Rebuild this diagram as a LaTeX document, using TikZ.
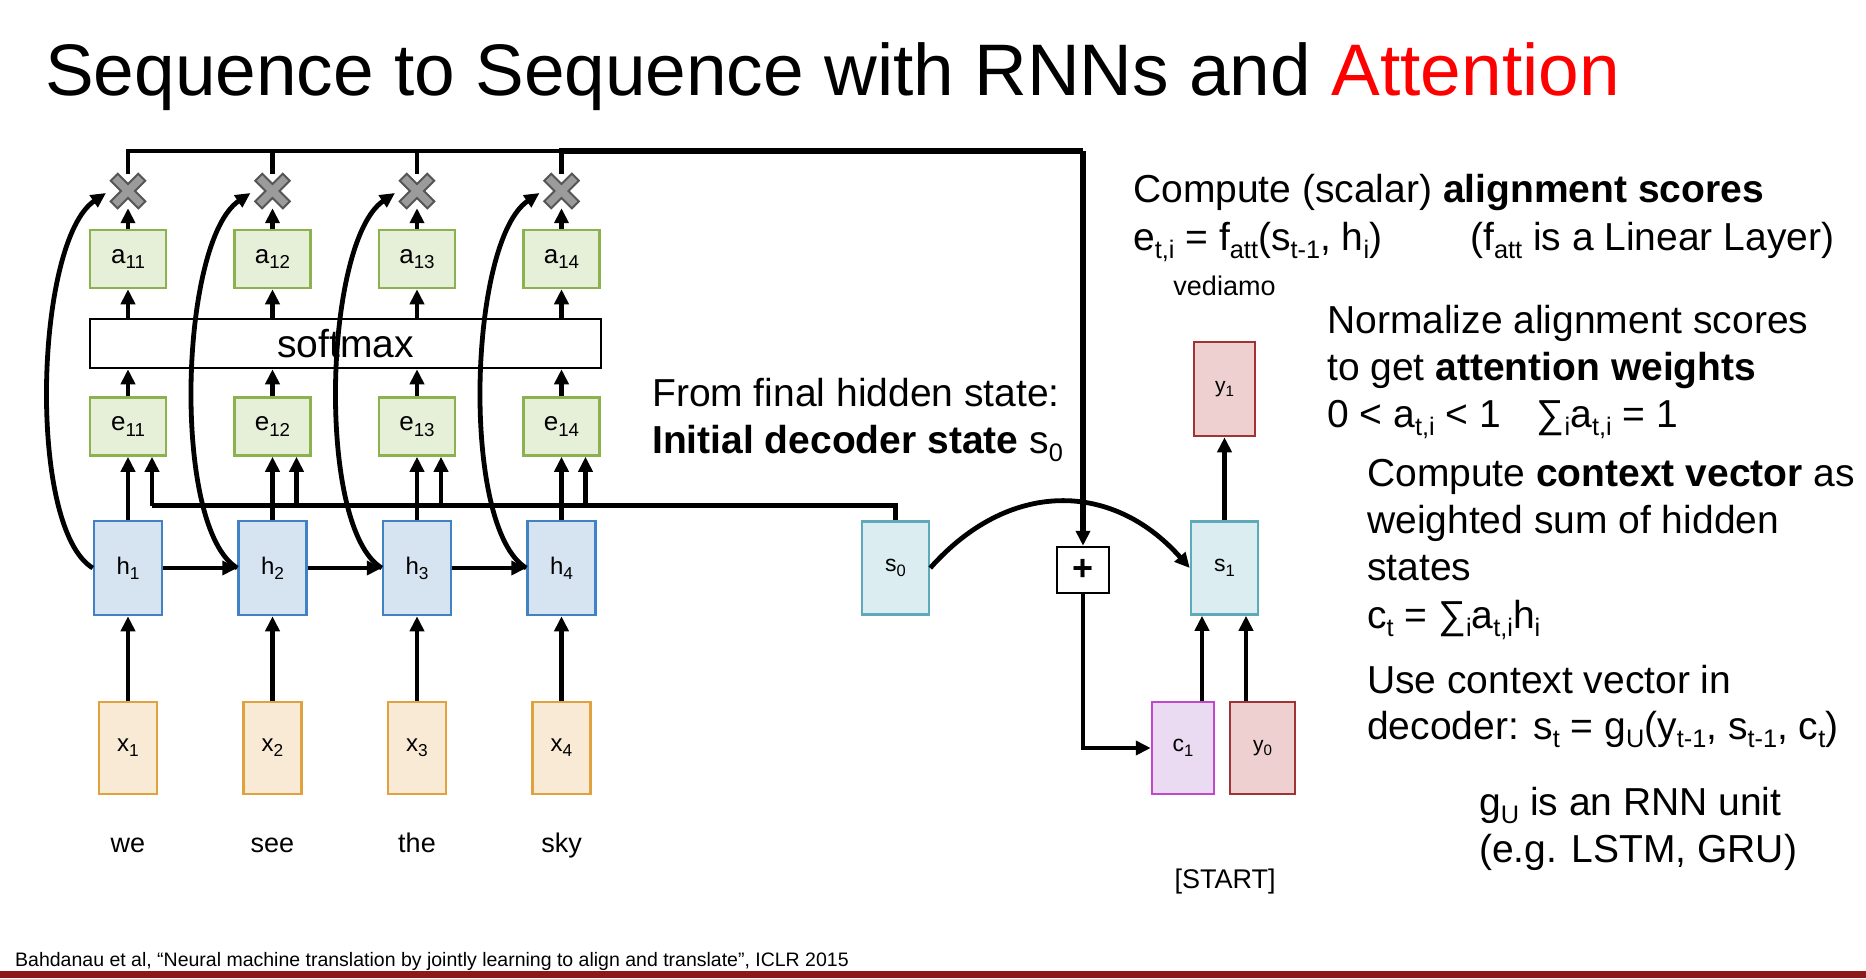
\documentclass[tikz,border=0pt]{standalone}
\usepackage{fontspec}
\setmainfont{Liberation Sans}
\usepackage{graphicx}
\usetikzlibrary{arrows.meta,calc}

\definecolor{grfill}{RGB}{230,239,216}
\definecolor{grline}{RGB}{140,178,80}
\definecolor{blfill}{RGB}{214,228,242}
\definecolor{blline}{RGB}{64,130,196}
\definecolor{orfill}{RGB}{248,234,212}
\definecolor{orline}{RGB}{224,162,62}
\definecolor{tlfill}{RGB}{219,237,240}
\definecolor{tlline}{RGB}{92,170,186}
\definecolor{rdfill}{RGB}{238,208,208}
\definecolor{rdline}{RGB}{160,52,52}
\definecolor{pufill}{RGB}{234,218,242}
\definecolor{puline}{RGB}{192,72,204}
\definecolor{xdark}{RGB}{85,85,85}
\definecolor{xlight}{RGB}{155,155,155}
\definecolor{barred}{RGB}{140,24,24}
\definecolor{attred}{RGB}{255,0,0}

\newcommand\mysub[1]{\raisebox{-0.22em}{\scalebox{0.65}{#1}}}
\newcommand\lsub[1]{\raisebox{-0.2em}{\scalebox{0.72}{#1}}}

\tikzset{
  box/.style={draw, line width=2.5pt, inner sep=0pt, anchor=center},
  gbox/.style={box, fill=grfill, draw=grline, minimum width=76pt, minimum height=58pt, font=\fontsize{26}{26}\selectfont},
  hbox/.style={box, fill=blfill, draw=blline, minimum width=68pt, minimum height=94pt, font=\fontsize{24}{24}\selectfont},
  xbox/.style={box, fill=orfill, draw=orline, minimum width=58pt, minimum height=92pt, font=\fontsize{24}{24}\selectfont},
  sbox/.style={box, fill=tlfill, draw=tlline, minimum width=67pt, minimum height=93pt, font=\fontsize{23}{23}\selectfont},
  ybox/.style={box, fill=rdfill, draw=rdline, font=\fontsize{21}{21}\selectfont},
  cbox/.style={box, fill=pufill, draw=puline, minimum width=62pt, minimum height=92pt, font=\fontsize{23}{23}\selectfont},
  softbox/.style={box, fill=white, draw=black, minimum width=511pt, minimum height=49pt, font=\fontsize{39}{39}\selectfont},
  plusbox/.style={box, fill=white, draw=black, minimum width=52pt, minimum height=46pt, font=\fontsize{36}{36}\selectfont\bfseries},
  mulnode/.style={circle, minimum size=34pt, inner sep=0pt},
  word/.style={anchor=base, inner sep=0pt, font=\fontsize{27}{30}\selectfont},
  body/.style={anchor=base west, inner sep=0pt, font=\fontsize{39}{47}\selectfont},
  ln/.style={line width=4.8pt},
  arr/.style={line width=4.8pt, -{Triangle[length=15pt,width=14pt]}},
  mulx/.pic={
    \draw[line width=12pt, xdark] (-14.5,-14.5) -- (14.5,14.5) (-14.5,14.5) -- (14.5,-14.5);
    \draw[line width=7.5pt, xlight] (-13,-13) -- (13,13) (-13,13) -- (13,-13);
  }
}

\begin{document}
\begin{tikzpicture}[x=1pt,y=-1pt]
\useasboundingbox (0,0) rectangle (1866,978);

% title
\node[anchor=base west, inner sep=0pt, font=\fontsize{73}{80}\selectfont] (title) at (45,95)
  {Sequence to Sequence with RNNs and \textcolor{attred}{Attention}};

% encoder columns
\foreach \i/\cx in {1/128,2/272.5,3/417,4/561.5}{
  \node[gbox] (a\i) at (\cx,259) {a\lsub{1\i}};
  \node[gbox] (e\i) at (\cx,426.5) {e\lsub{1\i}};
  \node[hbox] (h\i) at (\cx,568) {h\lsub{\i}};
  \node[xbox] (x\i) at (\cx,748) {x\lsub{\i}};
  \node[mulnode] (m\i) at (\cx,191) {};
  \pic at (m\i) {mulx};
}
\node[softbox] (soft) at (345.5,343.5) {softmax};

\node[word] (w1) at (128,852) {we};
\node[word] (w2) at (272.5,852) {see};
\node[word] (w3) at (417,852) {the};
\node[word] (w4) at (561.5,852) {sky};

% decoder
\node[sbox] (s0) at (895.5,568) {s\lsub{0}};
\node[plusbox] (plus) at (1083,570) {+};
\node[sbox] (s1) at (1224.5,568) {s\lsub{1}};
\node[ybox, minimum width=61pt, minimum height=94pt] (y1) at (1224.5,389) {y\lsub{1}};
\node[cbox] (c1) at (1183,748) {c\lsub{1}};
\node[ybox, minimum width=65pt, minimum height=92pt] (y0) at (1262.5,748) {y\lsub{0}};

% encoder connectors
\foreach \i in {1,...,4}{
  \draw[arr] (x\i.north) -- (h\i.south);
  \draw[arr] (h\i.north) -- (e\i.south);
  \draw[arr] (e\i.north) -- (e\i.north |- soft.south);
  \draw[arr] (a\i.south |- soft.north) -- (a\i.south);
  \draw[arr] (a\i.north) -- (m\i);
}
\foreach \i/\j in {1/2,2/3,3/4}{
  \draw[arr] (h\i.east) -- (h\j.west);
}

% s0 to all e boxes
\coordinate (L) at ($(e1.south)+(24,49)$);
\draw[ln] (s0.north) |- (L);
\foreach \i in {1,...,4}{
  \draw[arr] ($(e\i.south)+(24,49)$) -- ($(e\i.south)+(24,0)$);
}

% hidden states to multipliers
\foreach \i in {1,...,4}{
  \draw[arr] (h\i.west) .. controls ($(h\i.west)+(-66,-40)$) and ($(m\i)+(-93,50)$) .. ($(m\i)+(-22,2)$);
}

% s0 -> s1
\draw[arr] (s0.east) .. controls ($(s0.east)+(78,-88)$) and ($(s1.west)+(-78,-88)$) .. (s1.west);

% multipliers to sum
\coordinate (T) at (1083,151);
\foreach \i in {1,2,3}{
  \draw[ln, line width=4.2pt] (m\i.north) |- (T);
}
\draw[ln, line width=5.4pt] (m4.north) |- (T);
\draw[arr, line width=5.4pt] (T) -- (plus.north);
\draw[arr] (plus.south) |- (c1.west);

\draw[arr] ($(c1.north)+(19,0)$) -- ($(s1.south)+(-22.5,0)$);
\draw[arr] ($(y0.north)+(-16.5,0)$) -- ($(s1.south)+(21.5,0)$);
\draw[arr] (s1.north) -- (y1.south);

% texts
\node[body] (t1) at (1133,202) {Compute (scalar) \textbf{alignment scores}};
\node[body] (t2) at (1133,250) {e\mysub{t,i} = f\mysub{att}(s\mysub{t-1}, h\mysub{i})};
\node[body] (t3) at (1470,250) {(f\mysub{att} is a Linear Layer)};
\node[word] (ved) at (1224.5,295) {vediamo};
\node[body] (t4) at (1327,333) {Normalize alignment scores};
\node[body] (t5) at (1327,380) {to get \textbf{attention weights}};
\node[body] (t6) at (1327,427) {0 < a\mysub{t,i} < 1\hspace{36pt}∑\mysub{i}a\mysub{t,i} = 1};
\node[body] (t7) at (1367,486) {Compute \textbf{context vector} as};
\node[body] (t8) at (1367,533) {weighted sum of hidden};
\node[body] (t9) at (1367,580) {states};
\node[body] (t10) at (1367,628) {c\mysub{t} = ∑\mysub{i}a\mysub{t,i}h\mysub{i}};
\node[body] (t11) at (1367,693) {Use context vector in};
\node[body] (t12) at (1367,739) {decoder: s\mysub{t} = g\mysub{U}(y\mysub{t-1}, s\mysub{t-1}, c\mysub{t})};
\node[body] (t13) at (1479,815) {g\mysub{U} is an RNN unit};
\node[body] (t14) at (1479,862) {(e.g. LSTM, GRU)};
\node[body] (f1) at (652,406) {From final hidden state:};
\node[body] (f2) at (652,453) {\textbf{Initial decoder state} s\mysub{0}};
\node[word] (start) at (1225,888) {[START]};

% citation and bar
\node[anchor=base west, inner sep=0pt, font=\fontsize{19.5}{20}\selectfont] (cite) at (15,966)
  {Bahdanau et al, “Neural machine translation by jointly learning to align and translate”, ICLR 2015};
\fill[barred] (0,971) rectangle (1866,978);
\end{tikzpicture}
\end{document}
